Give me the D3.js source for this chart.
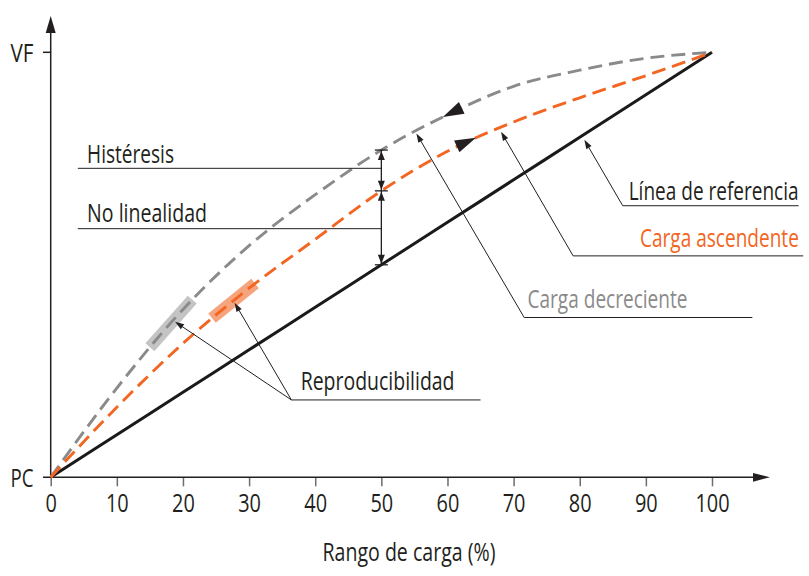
<!DOCTYPE html>
<html>
<head>
<meta charset="utf-8">
<script src="https://cdn.jsdelivr.net/npm/d3@7"></script>
<style>
  body { margin: 0; background: #fff; }
  text { font-family: "Open Sans", "Noto Sans", sans-serif; font-size: 25px; fill: #231f20; }
</style>
</head>
<body>
<div id="chart-area"></div>
<script>
// load range (%) and the three response curves (% of full scale)
var load       = [0, 10, 20, 30, 40, 50, 60, 70, 80, 90, 100];
var reference  = [0, 10, 20, 30, 40, 50, 60, 70, 80, 90, 100];
var ascending  = [0, 16.5, 31.5, 44.5, 56, 67.4, 76.7, 83.6, 89.3, 94.5, 100];
var descending = [0, 21, 39.5, 54.5, 66.5, 77, 85.3, 92, 95.8, 98.6, 100];
var xTicks     = [0, 10, 20, 30, 40, 50, 60, 70, 80, 90, 100];

// reproducibility bands (load range on each curve)
var bandDesc = [15, 21.4];
var bandAsc  = [24.4, 30.9];

var width = 809, height = 576;
var dark = "#231f20", orange = "#f26522", grey = "#8a8a8a";

var svg = d3.select("#chart-area").append("svg")
    .attr("width", width)
    .attr("height", height);

var x = d3.scaleLinear().domain([0, 100]).range([50.7, 712]);
var y = d3.scaleLinear().domain([0, 100]).range([477.3, 52.3]);

function arrowHead(g, tx, ty, ux, uy, len, hw, fill) {
    var bx = tx - ux * len, by = ty - uy * len;
    var pts = [[tx, ty], [bx - uy * hw, by + ux * hw], [bx + uy * hw, by - ux * hw]];
    g.append("polygon")
        .attr("points", pts.map(p => p.join(",")).join(" "))
        .attr("fill", fill || dark);
}

// condensed look: squeeze a text horizontally to width w, left edge at px
function addText(g, str, px, py, w, color) {
    var t = g.append("text").attr("x", 0).attr("y", 0)
        .attr("text-anchor", "start").text(str);
    if (color) t.style("fill", color);
    var nat = t.node().getComputedTextLength();
    t.attr("transform", "translate(" + px + "," + py + ") scale(" + (w / nat) + ",1)");
    return t;
}

// find the point of a path with a given screen x (paths run left to right)
function pointAtX(node, px) {
    var lo = 0, hi = node.getTotalLength();
    for (var k = 0; k < 40; k++) {
        var mid = (lo + hi) / 2;
        if (node.getPointAtLength(mid).x < px) lo = mid; else hi = mid;
    }
    var p = node.getPointAtLength(lo);
    return { x: p.x, y: p.y, len: lo };
}

// ---- axes
var xAxisG = svg.append("g").attr("transform", "translate(0," + y(0) + ")");
xAxisG.call(d3.axisBottom(x).tickValues(xTicks).tickSize(9).tickSizeOuter(0));
xAxisG.select(".domain").remove();
xAxisG.selectAll(".tick line").attr("stroke", "#6d6d6d").attr("stroke-width", 1.5);
xAxisG.selectAll(".tick text").remove();
xAxisG.selectAll(".tick").each(function (d) {
    var w = String(d).length * 11.4;
    addText(d3.select(this), String(d), -w / 2, 35, w, dark);
});

svg.append("line").attr("x1", 43).attr("x2", 754).attr("y1", y(0)).attr("y2", y(0))
    .attr("stroke", dark).attr("stroke-width", 1.5);
arrowHead(svg, 770, y(0), 1, 0, 17, 4.4);
svg.append("line").attr("x1", x(0)).attr("x2", x(0)).attr("y1", y(0)).attr("y2", 32)
    .attr("stroke", dark).attr("stroke-width", 1.5);
arrowHead(svg, x(0), 16, 0, -1, 17, 5);
svg.append("line").attr("x1", 43).attr("x2", x(0)).attr("y1", y(100)).attr("y2", y(100))
    .attr("stroke", dark).attr("stroke-width", 1.5);

addText(svg, "VF", 10.5, 62.3, 23);
addText(svg, "PC", 10.5, 487.3, 23);
addText(svg, "Rango de carga (%)", 322.5, 561, 173);

// ---- curves
var bandsG = svg.append("g");
var curvesG = svg.append("g");
var annotG = svg.append("g");

var line = d3.line()
    .x((d, i) => x(load[i]))
    .y(d => y(d))
    .curve(d3.curveMonotoneX);

var refPath = curvesG.append("path").datum(reference)
    .attr("d", line).attr("fill", "none")
    .attr("stroke", "#1a1a1a").attr("stroke-width", 3);
var descPath = curvesG.append("path").datum(descending)
    .attr("d", line).attr("fill", "none")
    .attr("stroke", grey).attr("stroke-width", 2.9)
    .attr("stroke-dasharray", "14,7");
var ascPath = curvesG.append("path").datum(ascending)
    .attr("d", line).attr("fill", "none")
    .attr("stroke", orange).attr("stroke-width", 2.9)
    .attr("stroke-dasharray", "14,7");

// reproducibility bands
[[descPath, bandDesc, "#c4c4c4"], [ascPath, bandAsc, "#f6a47e"]].forEach(b => {
    var p0 = pointAtX(b[0].node(), x(b[1][0]));
    var p1 = pointAtX(b[0].node(), x(b[1][1]));
    bandsG.append("line")
        .attr("x1", p0.x).attr("y1", p0.y).attr("x2", p1.x).attr("y2", p1.y)
        .attr("stroke", b[2]).attr("stroke-width", 12);
});

// direction arrows on the curves
function curveArrow(path, atLoad, forward, fill) {
    var node = path.node();
    var p = pointAtX(node, x(atLoad));
    var q = node.getPointAtLength(forward ? p.len - 6 : p.len + 6);
    var dx = p.x - q.x, dy = p.y - q.y, n = Math.hypot(dx, dy);
    arrowHead(annotG, p.x, p.y, dx / n, dy / n, 21, 6.5, fill);
}
curveArrow(descPath, 59.3, false);
curveArrow(ascPath, 64.3, true);

// ---- hysteresis / non-linearity dimension at 50 %
var dTop = pointAtX(descPath.node(), x(50));
var dMid = pointAtX(ascPath.node(), x(50));
var dBot = pointAtX(refPath.node(), x(50));
annotG.append("line").attr("x1", x(50)).attr("x2", x(50)).attr("y1", dTop.y).attr("y2", dBot.y)
    .attr("stroke", dark).attr("stroke-width", 1.3);
[dTop, dMid, dBot].forEach(p => {
    annotG.append("line").attr("x1", x(50) - 6.5).attr("x2", x(50) + 6.5)
        .attr("y1", p.y).attr("y2", p.y)
        .attr("stroke", dark).attr("stroke-width", 1.3);
});
arrowHead(annotG, x(50), dTop.y + 1, 0, -1, 9, 3.5);
arrowHead(annotG, x(50), dMid.y - 1, 0, 1, 9, 3.5);
arrowHead(annotG, x(50), dMid.y + 1, 0, -1, 9, 3.5);
arrowHead(annotG, x(50), dBot.y - 1, 0, 1, 9, 3.5);

// ---- labels with leader lines (positions in chart units, tx = left edge of text)
var labels = [
    { text: "Histéresis", color: dark, tx: 5.5, ty: 74.0, w: 87,
      lineY: 72.7, lineX0: 4.1, lineX1: 50, tips: [] },
    { text: "No linealidad", color: dark, tx: 5.5, ty: 60.1, w: 120,
      lineY: 58.5, lineX0: 4.1, lineX1: 50, tips: [] },
    { text: "Línea de referencia", color: dark, tx: 87.4, ty: 65.2, w: 170,
      lineY: 63.9, lineX0: 86.5, lineX1: 113.1, tips: [[80.7, 79.4]] },
    { text: "Carga ascendente", color: orange, tx: 89.1, ty: 54.3, w: 159,
      lineY: 52.1, lineX0: 79.0, lineX1: 113.8, tips: [[68.1, 81.3]] },
    { text: "Carga decreciente", color: grey, tx: 72.1, ty: 39.8, w: 160,
      lineY: 37.6, lineX0: 71.6, lineX1: 106.1, tips: [[55.3, 80.9]] },
    { text: "Reproducibilidad", color: dark, tx: 37.8, ty: 20.5, w: 154,
      lineY: 18.2, lineX0: 36.4, lineX1: 65.0, tips: [[18.8, 36.6], [27.8, 41.1]] }
];

labels.forEach(l => {
    addText(annotG, l.text, x(l.tx), y(l.ty), l.w, l.color);
    annotG.append("line")
        .attr("x1", x(l.lineX0)).attr("x2", x(l.lineX1))
        .attr("y1", y(l.lineY)).attr("y2", y(l.lineY))
        .attr("stroke", dark).attr("stroke-width", 1);
    l.tips.forEach(t => {
        var bx = x(l.lineX0), by = y(l.lineY), tx = x(t[0]), ty = y(t[1]);
        var dx = tx - bx, dy = ty - by, n = Math.hypot(dx, dy);
        annotG.append("line").attr("x1", bx).attr("y1", by)
            .attr("x2", tx - dx / n * 6).attr("y2", ty - dy / n * 6)
            .attr("stroke", dark).attr("stroke-width", 1);
        arrowHead(annotG, tx, ty, dx / n, dy / n, 9, 3);
    });
});
</script>
</body>
</html>
